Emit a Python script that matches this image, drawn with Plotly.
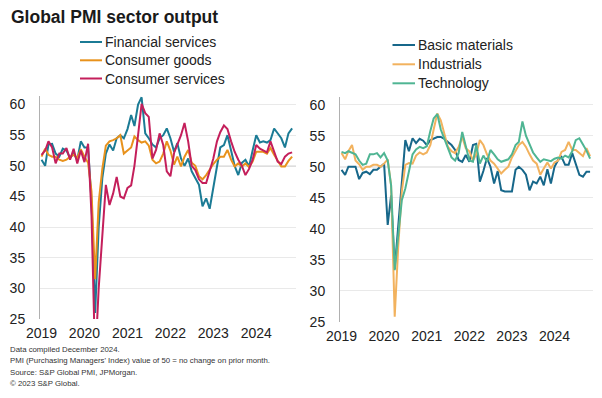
import pandas as pd
import plotly.graph_objects as go

months = pd.date_range("2019-01-01", periods=71, freq="MS")

financial_services = [51.0, 50.0, 53.5, 53.6, 52.0, 51.5, 52.8, 52.5, 51.3, 52.0, 51.0, 54.0,
                      53.0, 53.0, 44.2, 26.0, 40.0, 48.0, 52.0, 53.5, 52.5, 54.5, 55.0, 54.5,
                      56.0, 58.3, 56.5, 60.0, 61.2, 55.3, 54.5, 53.5, 53.0, 54.5, 55.0, 56.1,
                      54.5, 52.3, 53.7, 51.2, 50.0, 51.2, 49.1, 48.0, 46.9, 43.4, 44.7, 43.0,
                      46.5, 49.5, 53.0, 53.4, 55.0, 52.5, 50.0, 48.5, 50.5, 51.0, 49.9, 52.5,
                      55.0, 53.8, 54.0, 53.8, 54.2, 56.1, 55.3, 54.5, 53.0, 55.3, 56.1]
consumer_goods = [51.5, 52.8, 51.8, 51.5, 51.5, 51.0, 50.8, 51.0, 51.5, 51.8, 51.3, 52.7,
                  51.5, 50.5, 45.8, 31.5, 44.0, 49.5, 53.3, 54.0, 54.2, 54.5, 55.0, 52.0,
                  52.5, 53.0, 54.8, 54.2, 53.8, 54.0, 53.3, 51.0, 50.4, 50.7, 52.0, 54.0,
                  52.5, 50.2, 51.5, 49.9, 51.5, 52.6, 50.5, 50.0, 48.3, 47.8, 48.5, 49.5,
                  50.3, 51.0, 51.5, 51.5, 52.6, 51.0, 49.9, 50.4, 49.9, 50.4, 49.8, 50.7,
                  52.3, 52.3, 52.3, 52.0, 52.9, 51.8, 50.8, 49.9, 49.9, 50.8, 51.5]
consumer_services = [51.8, 52.5, 54.0, 53.0, 50.4, 52.0, 52.0, 52.9, 51.0, 52.8, 50.4, 52.5,
                     50.6, 53.6, 42.0, 18.0, 30.0, 39.0, 46.9, 43.6, 45.5, 48.2, 45.0, 44.7,
                     46.4, 46.8, 50.0, 55.0, 60.1, 58.6, 58.0, 51.2, 52.6, 55.3, 53.4, 49.1,
                     48.3, 52.1, 53.4, 55.0, 57.0, 54.0, 50.0, 49.3, 47.8, 47.2, 47.2, 49.3,
                     51.2, 54.0, 55.5, 56.6, 56.0, 54.0, 52.3, 51.0, 50.0, 48.5, 49.5, 51.0,
                     53.4, 52.8, 52.5, 52.2, 54.0, 52.2, 50.7, 50.3, 51.5, 52.0, 52.2]

basic_materials = [49.5, 48.7, 50.0, 50.0, 50.0, 48.0, 49.0, 49.2, 48.8, 49.5, 49.5, 50.0,
                   50.5, 40.6, 45.4, 33.5, 40.5, 47.0, 54.3, 52.5, 54.6, 53.8, 54.5, 54.2,
                   53.5, 54.3, 54.5, 54.8, 54.8, 54.5, 54.0, 53.5, 52.7, 51.1, 50.8, 51.9,
                   50.8, 53.5, 53.7, 47.6, 49.3, 51.4, 50.0, 47.3, 49.3, 46.2, 46.0, 46.0,
                   46.0, 49.5, 50.0, 49.5, 48.7, 46.2, 47.6, 47.3, 48.4, 47.0, 49.6, 47.3,
                   50.0, 51.1, 51.6, 50.3, 50.3, 52.2, 50.5, 48.7, 48.4, 49.2, 49.2]
industrials = [52.2, 51.2, 52.5, 53.5, 51.0, 50.4, 49.5, 50.0, 50.0, 50.3, 50.3, 50.0,
               50.5, 51.2, 47.0, 25.8, 37.0, 46.0, 50.3, 50.6, 50.5, 51.8, 52.3, 52.0,
               52.3, 53.5, 56.0, 58.6, 57.5, 55.5, 53.2, 52.5, 52.2, 53.2, 54.8, 53.0,
               52.5, 51.0, 52.0, 54.3, 53.5, 52.0, 51.0, 50.5, 49.7, 48.9, 49.5, 50.0,
               51.5, 52.5, 53.5, 54.0, 53.2, 52.0, 51.0, 50.5, 48.7, 49.7, 50.7, 49.7,
               50.7, 51.0, 52.4, 52.7, 54.0, 52.7, 52.7, 52.2, 51.7, 53.0, 51.7]
technology = [52.4, 52.2, 52.5, 52.2, 52.0, 51.0, 50.3, 50.5, 52.0, 52.0, 52.2, 51.5,
              52.2, 51.0, 47.0, 33.3, 39.0, 44.6, 46.5, 49.5, 52.0, 52.8, 53.2, 53.0,
              53.3, 55.8, 57.8, 58.5, 56.0, 54.5, 53.0, 51.5, 51.0, 52.2, 55.6, 53.5,
              51.0, 50.8, 53.5, 50.5, 51.8, 50.8, 52.7, 52.0, 51.2, 50.8, 51.0, 51.2,
              52.0, 53.5, 54.0, 57.3, 55.0, 53.5, 52.3, 51.5, 50.8, 51.2, 51.0, 50.9,
              51.3, 51.5, 51.3, 51.8, 51.5, 52.5, 54.3, 54.6, 53.6, 52.6, 51.3]

year_ticks = ["2019-01-01", "2020-01-01", "2021-01-01", "2022-01-01", "2023-01-01", "2024-01-01"]
year_labels = ["2019", "2020", "2021", "2022", "2023", "2024"]

FONT = "Liberation Sans, Arial, sans-serif"
W, H = 602, 398

fig = go.Figure()

left = [("Financial services", financial_services, "#1b7b95"),
        ("Consumer goods", consumer_goods, "#e8921c"),
        ("Consumer services", consumer_services, "#c41f5b")]
right = [("Basic materials", basic_materials, "#17678a"),
         ("Industrials", industrials, "#f2b25e"),
         ("Technology", technology, "#4fb593")]

for name, vals, col in left:
    fig.add_trace(go.Scatter(x=months, y=vals, name=name, mode="lines",
                             line=dict(color=col, width=2), xaxis="x", yaxis="y",
                             showlegend=False))
for name, vals, col in right:
    fig.add_trace(go.Scatter(x=months, y=vals, name=name, mode="lines",
                             line=dict(color=col, width=2), xaxis="x2", yaxis="y2",
                             showlegend=False))

def xax(domain, rng, anchor):
    return dict(domain=domain, range=rng, type="date", tickvals=year_ticks, ticktext=year_labels,
                showgrid=False, zeroline=False, showline=False, ticks="", automargin=False,
                tickfont=dict(family=FONT, size=14, color="#222"), ticklabelstandoff=4,
                anchor=anchor)

def yax(domain, rng, anchor):
    return dict(domain=domain, range=rng, tickvals=[25, 30, 35, 40, 45, 50, 55, 60],
                showgrid=True, gridcolor="#e9e9e9", gridwidth=1, zeroline=False,
                showline=True, linecolor="#b0b0b0", linewidth=1, ticks="", automargin=False,
                tickfont=dict(family=FONT, size=14, color="#222"), ticklabelstandoff=11,
                anchor=anchor)

shapes = [
    dict(type="line", xref="x domain", yref="y", x0=0, x1=1, y0=50, y1=50,
         line=dict(color="#9a9a9a", width=1), layer="below"),
    dict(type="line", xref="x2 domain", yref="y2", x0=0, x1=1, y0=50, y1=50,
         line=dict(color="#9a9a9a", width=1), layer="below"),
]

fig.update_layout(
    template="none",
    width=W, height=H, margin=dict(l=0, r=0, t=0, b=0, pad=0, autoexpand=False),
    paper_bgcolor="white", plot_bgcolor="white",
    font=dict(family=FONT, color="#222"),
    xaxis=xax([40 / W, 296 / W], ["2018-12-19", "2024-12-04"], "y"),
    yaxis=yax([(H - 319) / H, (H - 96) / H], [25, 61.4], "x"),
    xaxis2=xax([340 / W, 593 / W], ["2018-12-19", "2024-11-26"], "y2"),
    yaxis2=yax([(H - 321.7) / H, (H - 97) / H], [25, 61.25], "x2"),
    showlegend=False,
)

# legend entries (line sample + label) for each panel
def add_legend(items, x_line0, x_line1, x_text, ys):
    for (name, _vals, col), yy in zip(items, ys):
        shapes.append(dict(type="line", xref="paper", yref="paper",
                           x0=x_line0 / W, x1=x_line1 / W, y0=1 - yy / H, y1=1 - yy / H,
                           line=dict(color=col, width=2)))
        fig.add_annotation(text=name, xref="paper", yref="paper", x=x_text / W, y=1 - yy / H,
                           xanchor="left", yanchor="middle", showarrow=False,
                           font=dict(family=FONT, size=14, color="#222"))

add_legend(left, 80, 102, 103, [42, 60.3, 78.5])
add_legend(right, 392.5, 415, 416, [45, 64.3, 83.3])
fig.update_layout(shapes=shapes)

fig.add_annotation(text="<b>Global PMI sector output</b>", xref="paper", yref="paper",
                   x=9 / W, y=1 - 17 / H, xanchor="left", yanchor="middle", showarrow=False,
                   font=dict(family=FONT, size=17.5, color="#1a1a1a"))

notes = ["Data compiled December 2024.",
         "PMI (Purchasing Managers' Index) value of 50 = no change on prior month.",
         "Source: S&P Global PMI, JPMorgan.",
         "© 2023 S&P Global."]
for k, t in enumerate(notes):
    fig.add_annotation(text=t, xref="paper", yref="paper", x=8 / W, y=1 - (349.5 + 11.3 * k) / H,
                       xanchor="left", yanchor="middle", showarrow=False,
                       font=dict(family=FONT, size=7.8, color="#333"))

fig.write_html("out.html", config={"displayModeBar": False},
               post_script="document.body.style.margin='0';")
